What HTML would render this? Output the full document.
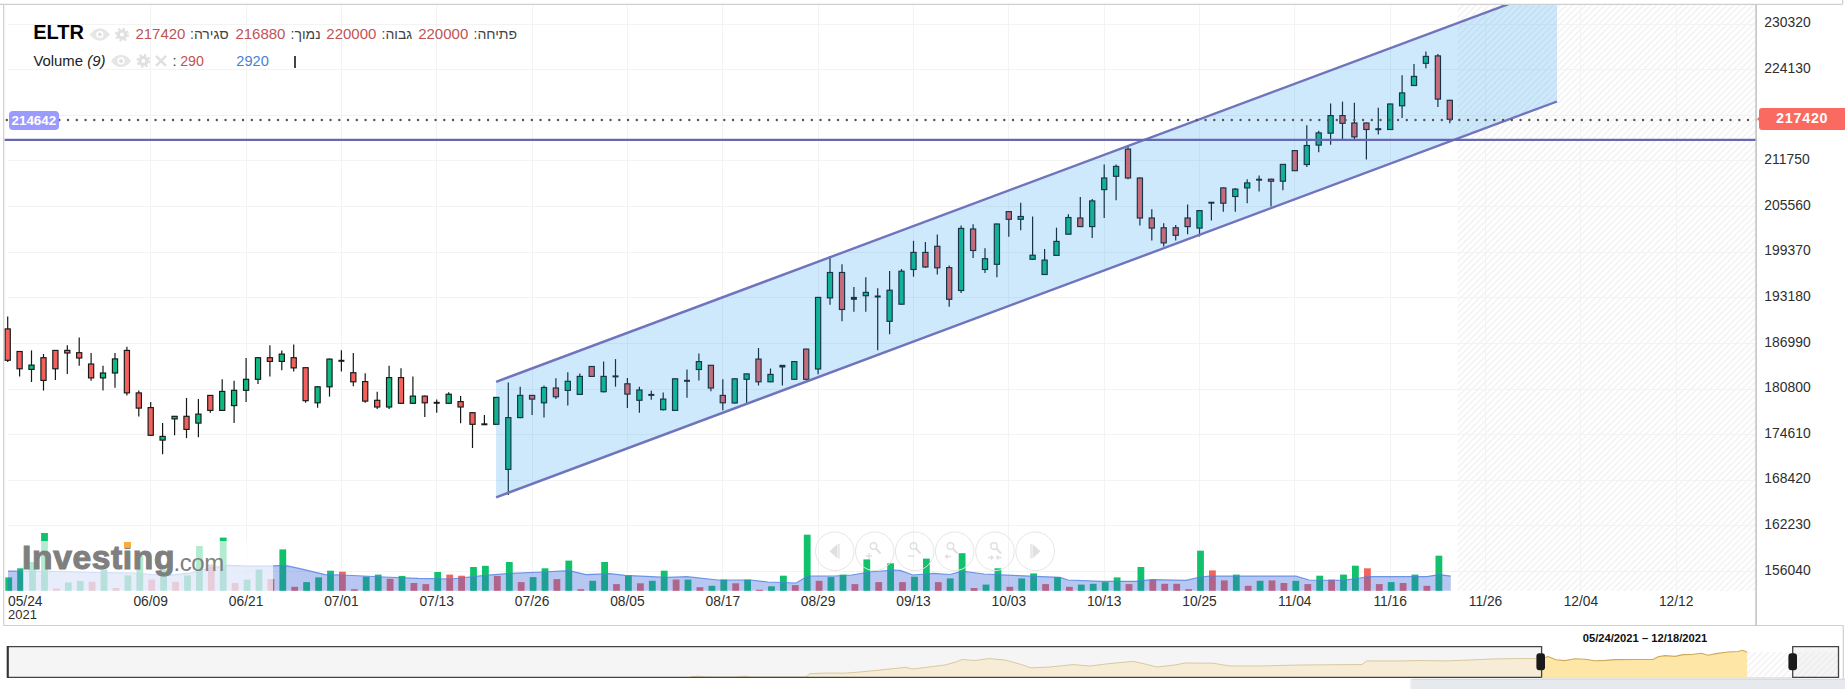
<!DOCTYPE html>
<html><head><meta charset="utf-8"><title>ELTR</title>
<style>
html,body{margin:0;padding:0;background:#fff;}
body{width:1845px;height:689px;overflow:hidden;position:relative;font-family:"Liberation Sans",sans-serif;color:#333;}
svg{position:absolute;left:0;top:0;}
.yl{position:absolute;left:1764.3px;font-size:13.9px;line-height:16px;height:16px;color:#2e2e2e;}
.xl{position:absolute;top:593.5px;width:60px;text-align:center;font-size:13.8px;line-height:15px;color:#2e2e2e;}
.hdr{position:absolute;white-space:nowrap;}
.v{color:#bf5356;}
.t{position:absolute;white-space:nowrap;}
</style></head><body>
<svg width="1845" height="689" viewBox="0 0 1845 689">
<defs>
<pattern id="hatch" width="4.55" height="4.55" patternUnits="userSpaceOnUse" patternTransform="rotate(-45)">
<rect width="4.55" height="4.55" fill="#ffffff"/><rect width="4.55" height="1.9" fill="#f4f4f4"/>
</pattern>
<pattern id="hatch2" width="4.55" height="4.55" patternUnits="userSpaceOnUse" patternTransform="rotate(-45)">
<rect width="4.55" height="4.55" fill="#f5f5f5"/><rect width="4.55" height="1.9" fill="#eeeeee"/>
</pattern>
<clipPath id="cc"><rect x="4" y="5" width="1753" height="587"/></clipPath>
</defs>
<g clip-path="url(#cc)">
<rect x="1457.5" y="5" width="298" height="586" fill="url(#hatch)"/>
<g stroke="#f3f3f3" stroke-width="1" shape-rendering="crispEdges">
<line x1="150.7" y1="5" x2="150.7" y2="591"/>
<line x1="246.1" y1="5" x2="246.1" y2="591"/>
<line x1="341.4" y1="5" x2="341.4" y2="591"/>
<line x1="436.7" y1="5" x2="436.7" y2="591"/>
<line x1="532.1" y1="5" x2="532.1" y2="591"/>
<line x1="627.4" y1="5" x2="627.4" y2="591"/>
<line x1="722.8" y1="5" x2="722.8" y2="591"/>
<line x1="818.1" y1="5" x2="818.1" y2="591"/>
<line x1="913.5" y1="5" x2="913.5" y2="591"/>
<line x1="1008.8" y1="5" x2="1008.8" y2="591"/>
<line x1="1104.2" y1="5" x2="1104.2" y2="591"/>
<line x1="1199.5" y1="5" x2="1199.5" y2="591"/>
<line x1="1294.8" y1="5" x2="1294.8" y2="591"/>
<line x1="1390.2" y1="5" x2="1390.2" y2="591"/>
<line x1="1485.5" y1="5" x2="1485.5" y2="591"/>
<line x1="1580.9" y1="5" x2="1580.9" y2="591"/>
<line x1="1676.2" y1="5" x2="1676.2" y2="591"/>
<line x1="8" y1="24.0" x2="1756" y2="24.0"/>
<line x1="8" y1="69.6" x2="1756" y2="69.6"/>
<line x1="8" y1="115.2" x2="1756" y2="115.2"/>
<line x1="8" y1="160.9" x2="1756" y2="160.9"/>
<line x1="8" y1="206.5" x2="1756" y2="206.5"/>
<line x1="8" y1="252.1" x2="1756" y2="252.1"/>
<line x1="8" y1="297.7" x2="1756" y2="297.7"/>
<line x1="8" y1="343.3" x2="1756" y2="343.3"/>
<line x1="8" y1="389.0" x2="1756" y2="389.0"/>
<line x1="8" y1="434.6" x2="1756" y2="434.6"/>
<line x1="8" y1="480.2" x2="1756" y2="480.2"/>
<line x1="8" y1="525.8" x2="1756" y2="525.8"/>
<line x1="8" y1="571.4" x2="1756" y2="571.4"/>
</g>
<g>
<rect x="5.3" y="577.4" width="6.8" height="13.4" fill="#10c26c"/>
<rect x="17.2" y="568.3" width="6.8" height="22.5" fill="#10c26c"/>
<rect x="29.1" y="562.0" width="6.8" height="28.8" fill="#10c26c"/>
<rect x="41.1" y="533.0" width="6.8" height="57.8" fill="#10c26c"/>
<rect x="53.0" y="588.5" width="6.8" height="2.3" fill="#f5645c"/>
<rect x="64.9" y="582.5" width="6.8" height="8.3" fill="#10c26c"/>
<rect x="76.8" y="581.0" width="6.8" height="9.8" fill="#10c26c"/>
<rect x="88.7" y="581.8" width="6.8" height="9.0" fill="#f5645c"/>
<rect x="100.6" y="569.5" width="6.8" height="21.3" fill="#10c26c"/>
<rect x="112.6" y="588.0" width="6.8" height="2.8" fill="#f5645c"/>
<rect x="124.5" y="575.4" width="6.8" height="15.4" fill="#10c26c"/>
<rect x="136.4" y="556.0" width="6.8" height="34.8" fill="#10c26c"/>
<rect x="148.3" y="579.6" width="6.8" height="11.2" fill="#f5645c"/>
<rect x="160.2" y="569.5" width="6.8" height="21.3" fill="#10c26c"/>
<rect x="172.2" y="581.8" width="6.8" height="9.0" fill="#f5645c"/>
<rect x="184.1" y="575.4" width="6.8" height="15.4" fill="#10c26c"/>
<rect x="196.0" y="546.0" width="6.8" height="44.8" fill="#10c26c"/>
<rect x="207.9" y="564.5" width="6.8" height="26.3" fill="#f5645c"/>
<rect x="219.8" y="537.6" width="6.8" height="53.2" fill="#10c26c"/>
<rect x="231.7" y="583.0" width="6.8" height="7.8" fill="#f5645c"/>
<rect x="243.7" y="579.6" width="6.8" height="11.2" fill="#10c26c"/>
<rect x="255.6" y="569.5" width="6.8" height="21.3" fill="#10c26c"/>
<rect x="267.5" y="579.0" width="6.8" height="11.8" fill="#f5645c"/>
<rect x="279.4" y="549.4" width="6.8" height="41.4" fill="#10c26c"/>
<rect x="291.3" y="586.8" width="6.8" height="4.0" fill="#f5645c"/>
<rect x="303.2" y="582.1" width="6.8" height="8.7" fill="#10c26c"/>
<rect x="315.2" y="577.4" width="6.8" height="13.4" fill="#10c26c"/>
<rect x="327.1" y="570.7" width="6.8" height="20.1" fill="#10c26c"/>
<rect x="339.0" y="571.7" width="6.8" height="19.1" fill="#f5645c"/>
<rect x="350.9" y="589.2" width="6.8" height="1.6" fill="#f5645c"/>
<rect x="362.8" y="576.7" width="6.8" height="14.1" fill="#10c26c"/>
<rect x="374.8" y="574.6" width="6.8" height="16.2" fill="#10c26c"/>
<rect x="386.7" y="578.8" width="6.8" height="12.0" fill="#f5645c"/>
<rect x="398.6" y="575.9" width="6.8" height="14.9" fill="#10c26c"/>
<rect x="410.5" y="583.0" width="6.8" height="7.8" fill="#f5645c"/>
<rect x="422.4" y="584.1" width="6.8" height="6.7" fill="#f5645c"/>
<rect x="434.3" y="572.0" width="6.8" height="18.8" fill="#10c26c"/>
<rect x="446.3" y="574.6" width="6.8" height="16.2" fill="#f5645c"/>
<rect x="458.2" y="575.7" width="6.8" height="15.1" fill="#f5645c"/>
<rect x="470.1" y="567.0" width="6.8" height="23.8" fill="#10c26c"/>
<rect x="482.0" y="565.8" width="6.8" height="25.0" fill="#10c26c"/>
<rect x="493.9" y="575.9" width="6.8" height="14.9" fill="#f5645c"/>
<rect x="505.9" y="562.0" width="6.8" height="28.8" fill="#10c26c"/>
<rect x="517.8" y="582.1" width="6.8" height="8.7" fill="#f5645c"/>
<rect x="529.7" y="577.1" width="6.8" height="13.7" fill="#10c26c"/>
<rect x="541.6" y="568.3" width="6.8" height="22.5" fill="#10c26c"/>
<rect x="553.5" y="579.1" width="6.8" height="11.7" fill="#f5645c"/>
<rect x="565.4" y="560.6" width="6.8" height="30.2" fill="#10c26c"/>
<rect x="577.4" y="589.2" width="6.8" height="1.6" fill="#f5645c"/>
<rect x="589.3" y="580.8" width="6.8" height="10.0" fill="#10c26c"/>
<rect x="601.2" y="562.0" width="6.8" height="28.8" fill="#10c26c"/>
<rect x="613.1" y="584.1" width="6.8" height="6.7" fill="#f5645c"/>
<rect x="625.0" y="575.4" width="6.8" height="15.4" fill="#10c26c"/>
<rect x="637.0" y="583.3" width="6.8" height="7.5" fill="#f5645c"/>
<rect x="648.9" y="580.8" width="6.8" height="10.0" fill="#10c26c"/>
<rect x="660.8" y="570.7" width="6.8" height="20.1" fill="#10c26c"/>
<rect x="672.7" y="579.6" width="6.8" height="11.2" fill="#f5645c"/>
<rect x="684.6" y="579.6" width="6.8" height="11.2" fill="#10c26c"/>
<rect x="696.5" y="587.2" width="6.8" height="3.6" fill="#f5645c"/>
<rect x="708.5" y="585.8" width="6.8" height="5.0" fill="#10c26c"/>
<rect x="720.4" y="579.6" width="6.8" height="11.2" fill="#10c26c"/>
<rect x="732.3" y="583.3" width="6.8" height="7.5" fill="#f5645c"/>
<rect x="744.2" y="579.6" width="6.8" height="11.2" fill="#10c26c"/>
<rect x="756.1" y="589.7" width="6.8" height="1.1" fill="#f5645c"/>
<rect x="768.1" y="586.3" width="6.8" height="4.5" fill="#10c26c"/>
<rect x="780.0" y="575.7" width="6.8" height="15.1" fill="#10c26c"/>
<rect x="791.9" y="585.1" width="6.8" height="5.7" fill="#f5645c"/>
<rect x="803.8" y="534.7" width="6.8" height="56.1" fill="#10c26c"/>
<rect x="815.7" y="580.8" width="6.8" height="10.0" fill="#f5645c"/>
<rect x="827.6" y="577.1" width="6.8" height="13.7" fill="#10c26c"/>
<rect x="839.6" y="574.6" width="6.8" height="16.2" fill="#10c26c"/>
<rect x="851.5" y="584.1" width="6.8" height="6.7" fill="#f5645c"/>
<rect x="863.4" y="559.4" width="6.8" height="31.4" fill="#10c26c"/>
<rect x="875.3" y="582.1" width="6.8" height="8.7" fill="#f5645c"/>
<rect x="887.2" y="563.3" width="6.8" height="27.5" fill="#10c26c"/>
<rect x="899.1" y="582.1" width="6.8" height="8.7" fill="#f5645c"/>
<rect x="911.1" y="576.7" width="6.8" height="14.1" fill="#10c26c"/>
<rect x="923.0" y="558.6" width="6.8" height="32.2" fill="#10c26c"/>
<rect x="934.9" y="582.1" width="6.8" height="8.7" fill="#f5645c"/>
<rect x="946.8" y="578.4" width="6.8" height="12.4" fill="#10c26c"/>
<rect x="958.7" y="553.2" width="6.8" height="37.6" fill="#10c26c"/>
<rect x="970.7" y="588.0" width="6.8" height="2.8" fill="#f5645c"/>
<rect x="982.6" y="584.6" width="6.8" height="6.2" fill="#10c26c"/>
<rect x="994.5" y="568.3" width="6.8" height="22.5" fill="#10c26c"/>
<rect x="1006.4" y="586.8" width="6.8" height="4.0" fill="#f5645c"/>
<rect x="1018.3" y="578.4" width="6.8" height="12.4" fill="#10c26c"/>
<rect x="1030.2" y="573.4" width="6.8" height="17.4" fill="#10c26c"/>
<rect x="1042.2" y="584.1" width="6.8" height="6.7" fill="#f5645c"/>
<rect x="1054.1" y="577.1" width="6.8" height="13.7" fill="#10c26c"/>
<rect x="1066.0" y="586.8" width="6.8" height="4.0" fill="#f5645c"/>
<rect x="1077.9" y="584.6" width="6.8" height="6.2" fill="#10c26c"/>
<rect x="1089.8" y="583.8" width="6.8" height="7.0" fill="#10c26c"/>
<rect x="1101.8" y="582.1" width="6.8" height="8.7" fill="#10c26c"/>
<rect x="1113.7" y="577.4" width="6.8" height="13.4" fill="#10c26c"/>
<rect x="1125.6" y="584.1" width="6.8" height="6.7" fill="#f5645c"/>
<rect x="1137.5" y="567.0" width="6.8" height="23.8" fill="#10c26c"/>
<rect x="1149.4" y="579.6" width="6.8" height="11.2" fill="#f5645c"/>
<rect x="1161.3" y="583.8" width="6.8" height="7.0" fill="#f5645c"/>
<rect x="1173.3" y="583.8" width="6.8" height="7.0" fill="#f5645c"/>
<rect x="1185.2" y="589.2" width="6.8" height="1.6" fill="#f5645c"/>
<rect x="1197.1" y="550.7" width="6.8" height="40.1" fill="#10c26c"/>
<rect x="1209.0" y="570.4" width="6.8" height="20.4" fill="#f5645c"/>
<rect x="1220.9" y="580.4" width="6.8" height="10.4" fill="#f5645c"/>
<rect x="1232.9" y="574.6" width="6.8" height="16.2" fill="#10c26c"/>
<rect x="1244.8" y="585.8" width="6.8" height="5.0" fill="#f5645c"/>
<rect x="1256.7" y="580.8" width="6.8" height="10.0" fill="#10c26c"/>
<rect x="1268.6" y="580.4" width="6.8" height="10.4" fill="#f5645c"/>
<rect x="1280.5" y="583.0" width="6.8" height="7.8" fill="#f5645c"/>
<rect x="1292.4" y="580.8" width="6.8" height="10.0" fill="#10c26c"/>
<rect x="1304.4" y="584.1" width="6.8" height="6.7" fill="#f5645c"/>
<rect x="1316.3" y="575.7" width="6.8" height="15.1" fill="#10c26c"/>
<rect x="1328.2" y="579.6" width="6.8" height="11.2" fill="#f5645c"/>
<rect x="1340.1" y="574.6" width="6.8" height="16.2" fill="#10c26c"/>
<rect x="1352.0" y="565.7" width="6.8" height="25.1" fill="#10c26c"/>
<rect x="1364.0" y="568.3" width="6.8" height="22.5" fill="#f5645c"/>
<rect x="1375.9" y="584.1" width="6.8" height="6.7" fill="#f5645c"/>
<rect x="1387.8" y="582.1" width="6.8" height="8.7" fill="#10c26c"/>
<rect x="1399.7" y="583.0" width="6.8" height="7.8" fill="#f5645c"/>
<rect x="1411.6" y="574.6" width="6.8" height="16.2" fill="#10c26c"/>
<rect x="1423.5" y="585.8" width="6.8" height="5.0" fill="#f5645c"/>
<rect x="1435.5" y="555.7" width="6.8" height="35.1" fill="#10c26c"/>
</g>
<polygon points="8,590.8 8.0,571.2 60.0,571.5 100.0,572.5 134.0,573.0 152.0,574.5 168.0,575.4 190.0,573.0 210.0,568.0 227.0,565.3 250.0,566.0 268.0,566.2 285.0,565.3 300.0,568.7 325.0,574.6 342.0,575.0 384.0,577.0 418.0,578.4 451.0,579.0 485.0,575.4 510.0,573.4 543.0,572.0 569.0,570.7 586.0,574.6 610.0,573.7 625.0,575.4 667.0,577.4 687.0,576.7 718.0,580.0 751.0,580.0 768.0,582.0 796.0,583.0 808.0,576.0 835.0,576.0 852.0,575.0 869.0,572.0 894.0,570.0 900.0,570.4 913.0,575.0 934.0,573.4 950.0,574.5 962.0,571.2 984.0,574.0 1018.0,575.7 1060.0,577.4 1068.0,580.0 1102.0,581.3 1135.0,581.3 1152.0,579.6 1186.0,580.4 1200.0,577.0 1210.0,576.2 1296.0,576.2 1309.0,580.0 1343.0,580.4 1360.0,578.0 1368.0,576.7 1427.0,576.7 1439.0,574.6 1450.8,576.2 1450.8,590.8" fill="rgba(58,100,220,0.36)"/>
<polyline points="8.0,571.2 60.0,571.5 100.0,572.5 134.0,573.0 152.0,574.5 168.0,575.4 190.0,573.0 210.0,568.0 227.0,565.3 250.0,566.0 268.0,566.2 285.0,565.3 300.0,568.7 325.0,574.6 342.0,575.0 384.0,577.0 418.0,578.4 451.0,579.0 485.0,575.4 510.0,573.4 543.0,572.0 569.0,570.7 586.0,574.6 610.0,573.7 625.0,575.4 667.0,577.4 687.0,576.7 718.0,580.0 751.0,580.0 768.0,582.0 796.0,583.0 808.0,576.0 835.0,576.0 852.0,575.0 869.0,572.0 894.0,570.0 900.0,570.4 913.0,575.0 934.0,573.4 950.0,574.5 962.0,571.2 984.0,574.0 1018.0,575.7 1060.0,577.4 1068.0,580.0 1102.0,581.3 1135.0,581.3 1152.0,579.6 1186.0,580.4 1200.0,577.0 1210.0,576.2 1296.0,576.2 1309.0,580.0 1343.0,580.4 1360.0,578.0 1368.0,576.7 1427.0,576.7 1439.0,574.6 1450.8,576.2" fill="none" stroke="#4f7fe0" stroke-width="1.2" stroke-opacity="0.8"/>
<g>
<line x1="7.7" y1="316.4" x2="7.7" y2="362.0" stroke="#141a1a" stroke-width="1.2"/>
<rect x="5.1" y="328.9" width="5.2" height="31.4" fill="#f4605c" stroke="#141a1a" stroke-width="1.15"/>
<line x1="19.6" y1="351.0" x2="19.6" y2="376.4" stroke="#141a1a" stroke-width="1.2"/>
<rect x="17.0" y="351.5" width="5.2" height="17.3" fill="#f4605c" stroke="#141a1a" stroke-width="1.15"/>
<line x1="31.5" y1="350.4" x2="31.5" y2="382.0" stroke="#141a1a" stroke-width="1.2"/>
<rect x="28.9" y="365.1" width="5.2" height="4.3" fill="#0fb981" stroke="#141a1a" stroke-width="1.15"/>
<line x1="43.5" y1="354.0" x2="43.5" y2="390.6" stroke="#141a1a" stroke-width="1.2"/>
<rect x="40.9" y="357.7" width="5.2" height="22.7" fill="#f4605c" stroke="#141a1a" stroke-width="1.15"/>
<line x1="55.4" y1="350.0" x2="55.4" y2="380.0" stroke="#141a1a" stroke-width="1.2"/>
<rect x="52.8" y="350.4" width="5.2" height="18.4" fill="#f4605c" stroke="#141a1a" stroke-width="1.15"/>
<line x1="67.3" y1="345.3" x2="67.3" y2="374.0" stroke="#141a1a" stroke-width="1.2"/>
<rect x="64.7" y="350.4" width="5.2" height="2.6" fill="#f4605c" stroke="#141a1a" stroke-width="1.15"/>
<line x1="79.2" y1="337.6" x2="79.2" y2="365.7" stroke="#141a1a" stroke-width="1.2"/>
<rect x="76.6" y="352.7" width="5.2" height="5.3" fill="#f4605c" stroke="#141a1a" stroke-width="1.15"/>
<line x1="91.1" y1="353.0" x2="91.1" y2="380.7" stroke="#141a1a" stroke-width="1.2"/>
<rect x="88.5" y="364.0" width="5.2" height="13.9" fill="#f4605c" stroke="#141a1a" stroke-width="1.15"/>
<line x1="103.0" y1="365.7" x2="103.0" y2="390.6" stroke="#141a1a" stroke-width="1.2"/>
<rect x="100.4" y="373.0" width="5.2" height="4.9" fill="#0fb981" stroke="#141a1a" stroke-width="1.15"/>
<line x1="115.0" y1="353.0" x2="115.0" y2="387.8" stroke="#141a1a" stroke-width="1.2"/>
<rect x="112.4" y="358.9" width="5.2" height="14.1" fill="#0fb981" stroke="#141a1a" stroke-width="1.15"/>
<line x1="126.9" y1="346.7" x2="126.9" y2="395.4" stroke="#141a1a" stroke-width="1.2"/>
<rect x="124.3" y="350.4" width="5.2" height="42.5" fill="#f4605c" stroke="#141a1a" stroke-width="1.15"/>
<line x1="138.8" y1="390.5" x2="138.8" y2="416.6" stroke="#141a1a" stroke-width="1.2"/>
<rect x="136.2" y="392.9" width="5.2" height="15.2" fill="#f4605c" stroke="#141a1a" stroke-width="1.15"/>
<line x1="150.7" y1="401.9" x2="150.7" y2="436.0" stroke="#141a1a" stroke-width="1.2"/>
<rect x="148.1" y="407.6" width="5.2" height="27.7" fill="#f4605c" stroke="#141a1a" stroke-width="1.15"/>
<line x1="162.6" y1="423.1" x2="162.6" y2="454.3" stroke="#141a1a" stroke-width="1.2"/>
<rect x="160.0" y="436.4" width="5.2" height="3.7" fill="#0fb981" stroke="#141a1a" stroke-width="1.15"/>
<line x1="174.6" y1="416.0" x2="174.6" y2="435.3" stroke="#141a1a" stroke-width="1.2"/>
<rect x="172.0" y="416.3" width="5.2" height="2.6" fill="#0fb981" stroke="#141a1a" stroke-width="1.15"/>
<line x1="186.5" y1="398.0" x2="186.5" y2="438.1" stroke="#141a1a" stroke-width="1.2"/>
<rect x="183.9" y="416.3" width="5.2" height="13.1" fill="#f4605c" stroke="#141a1a" stroke-width="1.15"/>
<line x1="198.4" y1="399.0" x2="198.4" y2="437.3" stroke="#141a1a" stroke-width="1.2"/>
<rect x="195.8" y="414.1" width="5.2" height="9.0" fill="#0fb981" stroke="#141a1a" stroke-width="1.15"/>
<line x1="210.3" y1="395.0" x2="210.3" y2="412.7" stroke="#141a1a" stroke-width="1.2"/>
<rect x="207.7" y="395.4" width="5.2" height="15.0" fill="#f4605c" stroke="#141a1a" stroke-width="1.15"/>
<line x1="222.2" y1="379.3" x2="222.2" y2="411.0" stroke="#141a1a" stroke-width="1.2"/>
<rect x="219.6" y="391.4" width="5.2" height="19.0" fill="#0fb981" stroke="#141a1a" stroke-width="1.15"/>
<line x1="234.1" y1="380.7" x2="234.1" y2="423.1" stroke="#141a1a" stroke-width="1.2"/>
<rect x="231.5" y="390.3" width="5.2" height="15.3" fill="#0fb981" stroke="#141a1a" stroke-width="1.15"/>
<line x1="246.1" y1="358.0" x2="246.1" y2="401.9" stroke="#141a1a" stroke-width="1.2"/>
<rect x="243.5" y="379.3" width="5.2" height="11.0" fill="#0fb981" stroke="#141a1a" stroke-width="1.15"/>
<line x1="258.0" y1="357.0" x2="258.0" y2="384.1" stroke="#141a1a" stroke-width="1.2"/>
<rect x="255.4" y="357.7" width="5.2" height="21.6" fill="#0fb981" stroke="#141a1a" stroke-width="1.15"/>
<line x1="269.9" y1="345.3" x2="269.9" y2="376.4" stroke="#141a1a" stroke-width="1.2"/>
<rect x="267.3" y="357.7" width="5.2" height="3.7" fill="#f4605c" stroke="#141a1a" stroke-width="1.15"/>
<line x1="281.8" y1="350.4" x2="281.8" y2="370.2" stroke="#141a1a" stroke-width="1.2"/>
<rect x="279.2" y="354.1" width="5.2" height="7.3" fill="#0fb981" stroke="#141a1a" stroke-width="1.15"/>
<line x1="293.7" y1="344.4" x2="293.7" y2="371.6" stroke="#141a1a" stroke-width="1.2"/>
<rect x="291.1" y="357.7" width="5.2" height="10.2" fill="#f4605c" stroke="#141a1a" stroke-width="1.15"/>
<line x1="305.6" y1="367.5" x2="305.6" y2="402.8" stroke="#141a1a" stroke-width="1.2"/>
<rect x="303.0" y="367.7" width="5.2" height="33.0" fill="#f4605c" stroke="#141a1a" stroke-width="1.15"/>
<line x1="317.6" y1="386.0" x2="317.6" y2="407.7" stroke="#141a1a" stroke-width="1.2"/>
<rect x="315.0" y="386.8" width="5.2" height="16.0" fill="#0fb981" stroke="#141a1a" stroke-width="1.15"/>
<line x1="329.5" y1="358.5" x2="329.5" y2="396.6" stroke="#141a1a" stroke-width="1.2"/>
<rect x="326.9" y="359.1" width="5.2" height="27.7" fill="#0fb981" stroke="#141a1a" stroke-width="1.15"/>
<line x1="341.4" y1="350.2" x2="341.4" y2="371.5" stroke="#141a1a" stroke-width="1.2"/>
<rect x="338.4" y="359.8" width="6" height="2.0" fill="#141a1a"/>
<line x1="353.3" y1="353.0" x2="353.3" y2="386.3" stroke="#141a1a" stroke-width="1.2"/>
<rect x="350.7" y="372.7" width="5.2" height="9.1" fill="#f4605c" stroke="#141a1a" stroke-width="1.15"/>
<line x1="365.2" y1="373.2" x2="365.2" y2="402.8" stroke="#141a1a" stroke-width="1.2"/>
<rect x="362.6" y="381.6" width="5.2" height="19.5" fill="#f4605c" stroke="#141a1a" stroke-width="1.15"/>
<line x1="377.2" y1="391.7" x2="377.2" y2="409.0" stroke="#141a1a" stroke-width="1.2"/>
<rect x="374.6" y="400.3" width="5.2" height="6.7" fill="#f4605c" stroke="#141a1a" stroke-width="1.15"/>
<line x1="389.1" y1="365.8" x2="389.1" y2="409.0" stroke="#141a1a" stroke-width="1.2"/>
<rect x="386.5" y="377.6" width="5.2" height="29.4" fill="#0fb981" stroke="#141a1a" stroke-width="1.15"/>
<line x1="401.0" y1="368.3" x2="401.0" y2="404.0" stroke="#141a1a" stroke-width="1.2"/>
<rect x="398.4" y="377.6" width="5.2" height="25.7" fill="#f4605c" stroke="#141a1a" stroke-width="1.15"/>
<line x1="412.9" y1="376.4" x2="412.9" y2="404.0" stroke="#141a1a" stroke-width="1.2"/>
<rect x="410.3" y="396.1" width="5.2" height="7.2" fill="#0fb981" stroke="#141a1a" stroke-width="1.15"/>
<line x1="424.8" y1="395.5" x2="424.8" y2="416.9" stroke="#141a1a" stroke-width="1.2"/>
<rect x="422.2" y="396.1" width="5.2" height="6.7" fill="#f4605c" stroke="#141a1a" stroke-width="1.15"/>
<line x1="436.7" y1="399.6" x2="436.7" y2="412.7" stroke="#141a1a" stroke-width="1.2"/>
<rect x="433.7" y="401.8" width="6" height="2.0" fill="#141a1a"/>
<line x1="448.7" y1="392.2" x2="448.7" y2="404.0" stroke="#141a1a" stroke-width="1.2"/>
<rect x="446.1" y="394.2" width="5.2" height="9.1" fill="#0fb981" stroke="#141a1a" stroke-width="1.15"/>
<line x1="460.6" y1="396.1" x2="460.6" y2="423.3" stroke="#141a1a" stroke-width="1.2"/>
<rect x="458.0" y="401.6" width="5.2" height="5.4" fill="#f4605c" stroke="#141a1a" stroke-width="1.15"/>
<line x1="472.5" y1="412.0" x2="472.5" y2="448.0" stroke="#141a1a" stroke-width="1.2"/>
<rect x="469.9" y="412.7" width="5.2" height="11.6" fill="#f4605c" stroke="#141a1a" stroke-width="1.15"/>
<line x1="484.4" y1="415.1" x2="484.4" y2="424.8" stroke="#141a1a" stroke-width="1.2"/>
<rect x="481.4" y="423.3" width="6" height="2.0" fill="#141a1a"/>
<line x1="496.3" y1="397.0" x2="496.3" y2="424.8" stroke="#141a1a" stroke-width="1.2"/>
<rect x="493.7" y="397.4" width="5.2" height="26.9" fill="#0fb981" stroke="#141a1a" stroke-width="1.15"/>
<line x1="508.3" y1="382.6" x2="508.3" y2="494.9" stroke="#141a1a" stroke-width="1.2"/>
<rect x="505.7" y="417.6" width="5.2" height="51.8" fill="#0fb981" stroke="#141a1a" stroke-width="1.15"/>
<line x1="520.2" y1="386.8" x2="520.2" y2="418.3" stroke="#141a1a" stroke-width="1.2"/>
<rect x="517.6" y="395.4" width="5.2" height="22.2" fill="#0fb981" stroke="#141a1a" stroke-width="1.15"/>
<line x1="532.1" y1="395.0" x2="532.1" y2="415.1" stroke="#141a1a" stroke-width="1.2"/>
<rect x="529.5" y="395.4" width="5.2" height="3.7" fill="#f4605c" stroke="#141a1a" stroke-width="1.15"/>
<line x1="544.0" y1="385.5" x2="544.0" y2="417.6" stroke="#141a1a" stroke-width="1.2"/>
<rect x="541.4" y="387.5" width="5.2" height="15.3" fill="#0fb981" stroke="#141a1a" stroke-width="1.15"/>
<line x1="555.9" y1="378.2" x2="555.9" y2="399.1" stroke="#141a1a" stroke-width="1.2"/>
<rect x="553.3" y="388.0" width="5.2" height="8.8" fill="#f4605c" stroke="#141a1a" stroke-width="1.15"/>
<line x1="567.8" y1="372.2" x2="567.8" y2="405.5" stroke="#141a1a" stroke-width="1.2"/>
<rect x="565.2" y="381.3" width="5.2" height="9.1" fill="#0fb981" stroke="#141a1a" stroke-width="1.15"/>
<line x1="579.8" y1="373.4" x2="579.8" y2="395.0" stroke="#141a1a" stroke-width="1.2"/>
<rect x="577.2" y="376.4" width="5.2" height="18.0" fill="#0fb981" stroke="#141a1a" stroke-width="1.15"/>
<line x1="591.7" y1="366.0" x2="591.7" y2="377.0" stroke="#141a1a" stroke-width="1.2"/>
<rect x="589.1" y="366.5" width="5.2" height="9.9" fill="#f4605c" stroke="#141a1a" stroke-width="1.15"/>
<line x1="603.6" y1="361.6" x2="603.6" y2="392.4" stroke="#141a1a" stroke-width="1.2"/>
<rect x="601.0" y="376.4" width="5.2" height="15.3" fill="#0fb981" stroke="#141a1a" stroke-width="1.15"/>
<line x1="615.5" y1="359.1" x2="615.5" y2="386.7" stroke="#141a1a" stroke-width="1.2"/>
<rect x="612.5" y="375.4" width="6" height="2.0" fill="#141a1a"/>
<line x1="627.4" y1="378.1" x2="627.4" y2="408.0" stroke="#141a1a" stroke-width="1.2"/>
<rect x="624.8" y="383.8" width="5.2" height="10.3" fill="#f4605c" stroke="#141a1a" stroke-width="1.15"/>
<line x1="639.4" y1="386.7" x2="639.4" y2="412.7" stroke="#141a1a" stroke-width="1.2"/>
<rect x="636.8" y="390.0" width="5.2" height="10.3" fill="#0fb981" stroke="#141a1a" stroke-width="1.15"/>
<line x1="651.3" y1="390.7" x2="651.3" y2="399.8" stroke="#141a1a" stroke-width="1.2"/>
<rect x="648.3" y="393.9" width="6" height="2.0" fill="#141a1a"/>
<line x1="663.2" y1="392.4" x2="663.2" y2="410.4" stroke="#141a1a" stroke-width="1.2"/>
<rect x="660.6" y="399.1" width="5.2" height="10.6" fill="#0fb981" stroke="#141a1a" stroke-width="1.15"/>
<line x1="675.1" y1="378.5" x2="675.1" y2="410.8" stroke="#141a1a" stroke-width="1.2"/>
<rect x="672.5" y="378.8" width="5.2" height="31.6" fill="#0fb981" stroke="#141a1a" stroke-width="1.15"/>
<line x1="687.0" y1="369.5" x2="687.0" y2="397.8" stroke="#141a1a" stroke-width="1.2"/>
<rect x="684.0" y="379.8" width="6" height="2.0" fill="#141a1a"/>
<line x1="698.9" y1="353.4" x2="698.9" y2="380.6" stroke="#141a1a" stroke-width="1.2"/>
<rect x="696.3" y="361.6" width="5.2" height="7.9" fill="#0fb981" stroke="#141a1a" stroke-width="1.15"/>
<line x1="710.9" y1="365.0" x2="710.9" y2="391.2" stroke="#141a1a" stroke-width="1.2"/>
<rect x="708.3" y="365.3" width="5.2" height="22.7" fill="#f4605c" stroke="#141a1a" stroke-width="1.15"/>
<line x1="722.8" y1="379.3" x2="722.8" y2="410.2" stroke="#141a1a" stroke-width="1.2"/>
<rect x="720.2" y="395.4" width="5.2" height="7.4" fill="#f4605c" stroke="#141a1a" stroke-width="1.15"/>
<line x1="734.7" y1="378.5" x2="734.7" y2="403.4" stroke="#141a1a" stroke-width="1.2"/>
<rect x="732.1" y="378.8" width="5.2" height="24.2" fill="#0fb981" stroke="#141a1a" stroke-width="1.15"/>
<line x1="746.6" y1="373.5" x2="746.6" y2="403.0" stroke="#141a1a" stroke-width="1.2"/>
<rect x="744.0" y="373.9" width="5.2" height="5.4" fill="#0fb981" stroke="#141a1a" stroke-width="1.15"/>
<line x1="758.5" y1="348.0" x2="758.5" y2="385.5" stroke="#141a1a" stroke-width="1.2"/>
<rect x="755.9" y="359.1" width="5.2" height="22.7" fill="#f4605c" stroke="#141a1a" stroke-width="1.15"/>
<line x1="770.5" y1="368.5" x2="770.5" y2="382.2" stroke="#141a1a" stroke-width="1.2"/>
<rect x="767.9" y="374.4" width="5.2" height="7.4" fill="#0fb981" stroke="#141a1a" stroke-width="1.15"/>
<line x1="782.4" y1="365.0" x2="782.4" y2="385.5" stroke="#141a1a" stroke-width="1.2"/>
<rect x="779.4" y="364.8" width="6" height="2.7" fill="#141a1a"/>
<line x1="794.3" y1="361.2" x2="794.3" y2="379.7" stroke="#141a1a" stroke-width="1.2"/>
<rect x="791.7" y="361.6" width="5.2" height="17.7" fill="#0fb981" stroke="#141a1a" stroke-width="1.15"/>
<line x1="806.2" y1="348.8" x2="806.2" y2="379.8" stroke="#141a1a" stroke-width="1.2"/>
<rect x="803.6" y="349.1" width="5.2" height="30.2" fill="#f4605c" stroke="#141a1a" stroke-width="1.15"/>
<line x1="818.1" y1="297.0" x2="818.1" y2="374.3" stroke="#141a1a" stroke-width="1.2"/>
<rect x="815.5" y="297.4" width="5.2" height="71.6" fill="#0fb981" stroke="#141a1a" stroke-width="1.15"/>
<line x1="830.0" y1="256.0" x2="830.0" y2="304.8" stroke="#141a1a" stroke-width="1.2"/>
<rect x="827.4" y="272.5" width="5.2" height="25.4" fill="#0fb981" stroke="#141a1a" stroke-width="1.15"/>
<line x1="842.0" y1="264.3" x2="842.0" y2="321.3" stroke="#141a1a" stroke-width="1.2"/>
<rect x="839.4" y="272.5" width="5.2" height="37.0" fill="#f4605c" stroke="#141a1a" stroke-width="1.15"/>
<line x1="853.9" y1="286.9" x2="853.9" y2="311.7" stroke="#141a1a" stroke-width="1.2"/>
<rect x="850.9" y="296.9" width="6" height="2.9" fill="#141a1a"/>
<line x1="865.8" y1="277.2" x2="865.8" y2="311.7" stroke="#141a1a" stroke-width="1.2"/>
<rect x="863.2" y="292.4" width="5.2" height="3.3" fill="#0fb981" stroke="#141a1a" stroke-width="1.15"/>
<line x1="877.7" y1="288.3" x2="877.7" y2="350.3" stroke="#141a1a" stroke-width="1.2"/>
<rect x="874.7" y="295.5" width="6" height="2.0" fill="#141a1a"/>
<line x1="889.6" y1="270.9" x2="889.6" y2="334.3" stroke="#141a1a" stroke-width="1.2"/>
<rect x="887.0" y="290.2" width="5.2" height="31.1" fill="#0fb981" stroke="#141a1a" stroke-width="1.15"/>
<line x1="901.5" y1="269.0" x2="901.5" y2="304.6" stroke="#141a1a" stroke-width="1.2"/>
<rect x="898.9" y="271.2" width="5.2" height="33.0" fill="#0fb981" stroke="#141a1a" stroke-width="1.15"/>
<line x1="913.5" y1="240.8" x2="913.5" y2="276.7" stroke="#141a1a" stroke-width="1.2"/>
<rect x="910.9" y="252.4" width="5.2" height="17.1" fill="#0fb981" stroke="#141a1a" stroke-width="1.15"/>
<line x1="925.4" y1="241.9" x2="925.4" y2="268.0" stroke="#141a1a" stroke-width="1.2"/>
<rect x="922.8" y="252.4" width="5.2" height="14.6" fill="#f4605c" stroke="#141a1a" stroke-width="1.15"/>
<line x1="937.3" y1="234.5" x2="937.3" y2="274.5" stroke="#141a1a" stroke-width="1.2"/>
<rect x="934.7" y="246.3" width="5.2" height="21.5" fill="#f4605c" stroke="#141a1a" stroke-width="1.15"/>
<line x1="949.2" y1="265.6" x2="949.2" y2="306.7" stroke="#141a1a" stroke-width="1.2"/>
<rect x="946.6" y="267.6" width="5.2" height="31.7" fill="#f4605c" stroke="#141a1a" stroke-width="1.15"/>
<line x1="961.1" y1="225.6" x2="961.1" y2="292.9" stroke="#141a1a" stroke-width="1.2"/>
<rect x="958.5" y="228.4" width="5.2" height="62.1" fill="#0fb981" stroke="#141a1a" stroke-width="1.15"/>
<line x1="973.1" y1="224.3" x2="973.1" y2="257.9" stroke="#141a1a" stroke-width="1.2"/>
<rect x="970.5" y="229.0" width="5.2" height="21.5" fill="#f4605c" stroke="#141a1a" stroke-width="1.15"/>
<line x1="985.0" y1="248.3" x2="985.0" y2="273.1" stroke="#141a1a" stroke-width="1.2"/>
<rect x="982.4" y="258.7" width="5.2" height="10.8" fill="#0fb981" stroke="#141a1a" stroke-width="1.15"/>
<line x1="996.9" y1="223.5" x2="996.9" y2="277.2" stroke="#141a1a" stroke-width="1.2"/>
<rect x="994.3" y="224.0" width="5.2" height="40.3" fill="#0fb981" stroke="#141a1a" stroke-width="1.15"/>
<line x1="1008.8" y1="211.0" x2="1008.8" y2="236.7" stroke="#141a1a" stroke-width="1.2"/>
<rect x="1006.2" y="211.6" width="5.2" height="7.7" fill="#f4605c" stroke="#141a1a" stroke-width="1.15"/>
<line x1="1020.7" y1="202.8" x2="1020.7" y2="230.3" stroke="#141a1a" stroke-width="1.2"/>
<rect x="1018.1" y="216.5" width="5.2" height="2.8" fill="#0fb981" stroke="#141a1a" stroke-width="1.15"/>
<line x1="1032.6" y1="216.5" x2="1032.6" y2="259.6" stroke="#141a1a" stroke-width="1.2"/>
<rect x="1030.0" y="255.2" width="5.2" height="4.1" fill="#0fb981" stroke="#141a1a" stroke-width="1.15"/>
<line x1="1044.6" y1="249.1" x2="1044.6" y2="275.0" stroke="#141a1a" stroke-width="1.2"/>
<rect x="1042.0" y="260.1" width="5.2" height="14.4" fill="#0fb981" stroke="#141a1a" stroke-width="1.15"/>
<line x1="1056.5" y1="227.7" x2="1056.5" y2="256.0" stroke="#141a1a" stroke-width="1.2"/>
<rect x="1053.9" y="241.4" width="5.2" height="14.0" fill="#0fb981" stroke="#141a1a" stroke-width="1.15"/>
<line x1="1068.4" y1="214.3" x2="1068.4" y2="234.6" stroke="#141a1a" stroke-width="1.2"/>
<rect x="1065.8" y="217.5" width="5.2" height="16.7" fill="#0fb981" stroke="#141a1a" stroke-width="1.15"/>
<line x1="1080.3" y1="197.0" x2="1080.3" y2="227.0" stroke="#141a1a" stroke-width="1.2"/>
<rect x="1077.7" y="218.0" width="5.2" height="8.6" fill="#f4605c" stroke="#141a1a" stroke-width="1.15"/>
<line x1="1092.2" y1="199.0" x2="1092.2" y2="238.0" stroke="#141a1a" stroke-width="1.2"/>
<rect x="1089.6" y="200.9" width="5.2" height="25.7" fill="#0fb981" stroke="#141a1a" stroke-width="1.15"/>
<line x1="1104.2" y1="164.4" x2="1104.2" y2="218.0" stroke="#141a1a" stroke-width="1.2"/>
<rect x="1101.6" y="178.0" width="5.2" height="11.6" fill="#0fb981" stroke="#141a1a" stroke-width="1.15"/>
<line x1="1116.1" y1="164.4" x2="1116.1" y2="200.2" stroke="#141a1a" stroke-width="1.2"/>
<rect x="1113.5" y="166.4" width="5.2" height="9.9" fill="#0fb981" stroke="#141a1a" stroke-width="1.15"/>
<line x1="1128.0" y1="146.7" x2="1128.0" y2="179.2" stroke="#141a1a" stroke-width="1.2"/>
<rect x="1125.4" y="149.1" width="5.2" height="28.9" fill="#f4605c" stroke="#141a1a" stroke-width="1.15"/>
<line x1="1139.9" y1="177.5" x2="1139.9" y2="225.4" stroke="#141a1a" stroke-width="1.2"/>
<rect x="1137.3" y="178.0" width="5.2" height="40.0" fill="#f4605c" stroke="#141a1a" stroke-width="1.15"/>
<line x1="1151.8" y1="209.3" x2="1151.8" y2="240.4" stroke="#141a1a" stroke-width="1.2"/>
<rect x="1149.2" y="218.0" width="5.2" height="10.1" fill="#f4605c" stroke="#141a1a" stroke-width="1.15"/>
<line x1="1163.7" y1="223.2" x2="1163.7" y2="246.4" stroke="#141a1a" stroke-width="1.2"/>
<rect x="1161.1" y="227.8" width="5.2" height="15.1" fill="#f4605c" stroke="#141a1a" stroke-width="1.15"/>
<line x1="1175.7" y1="224.9" x2="1175.7" y2="240.4" stroke="#141a1a" stroke-width="1.2"/>
<rect x="1173.1" y="227.8" width="5.2" height="7.5" fill="#f4605c" stroke="#141a1a" stroke-width="1.15"/>
<line x1="1187.6" y1="204.4" x2="1187.6" y2="234.3" stroke="#141a1a" stroke-width="1.2"/>
<rect x="1185.0" y="218.0" width="5.2" height="8.6" fill="#f4605c" stroke="#141a1a" stroke-width="1.15"/>
<line x1="1199.5" y1="210.2" x2="1199.5" y2="236.5" stroke="#141a1a" stroke-width="1.2"/>
<rect x="1196.9" y="210.6" width="5.2" height="17.5" fill="#0fb981" stroke="#141a1a" stroke-width="1.15"/>
<line x1="1211.4" y1="202.2" x2="1211.4" y2="220.4" stroke="#141a1a" stroke-width="1.2"/>
<rect x="1208.4" y="201.7" width="6" height="2.0" fill="#141a1a"/>
<line x1="1223.3" y1="187.5" x2="1223.3" y2="211.8" stroke="#141a1a" stroke-width="1.2"/>
<rect x="1220.7" y="187.9" width="5.2" height="15.3" fill="#f4605c" stroke="#141a1a" stroke-width="1.15"/>
<line x1="1235.3" y1="187.9" x2="1235.3" y2="211.8" stroke="#141a1a" stroke-width="1.2"/>
<rect x="1232.7" y="189.1" width="5.2" height="7.4" fill="#0fb981" stroke="#141a1a" stroke-width="1.15"/>
<line x1="1247.2" y1="179.2" x2="1247.2" y2="203.2" stroke="#141a1a" stroke-width="1.2"/>
<rect x="1244.6" y="182.9" width="5.2" height="5.0" fill="#0fb981" stroke="#141a1a" stroke-width="1.15"/>
<line x1="1259.1" y1="175.5" x2="1259.1" y2="191.6" stroke="#141a1a" stroke-width="1.2"/>
<rect x="1256.1" y="178.7" width="6" height="2.0" fill="#141a1a"/>
<line x1="1271.0" y1="178.8" x2="1271.0" y2="206.4" stroke="#141a1a" stroke-width="1.2"/>
<rect x="1268.4" y="179.2" width="5.2" height="2.0" fill="#f4605c" stroke="#141a1a" stroke-width="1.15"/>
<line x1="1282.9" y1="164.0" x2="1282.9" y2="190.3" stroke="#141a1a" stroke-width="1.2"/>
<rect x="1280.3" y="164.4" width="5.2" height="16.8" fill="#0fb981" stroke="#141a1a" stroke-width="1.15"/>
<line x1="1294.8" y1="150.2" x2="1294.8" y2="171.0" stroke="#141a1a" stroke-width="1.2"/>
<rect x="1292.2" y="150.6" width="5.2" height="20.1" fill="#f4605c" stroke="#141a1a" stroke-width="1.15"/>
<line x1="1306.8" y1="125.2" x2="1306.8" y2="167.0" stroke="#141a1a" stroke-width="1.2"/>
<rect x="1304.2" y="145.5" width="5.2" height="19.0" fill="#0fb981" stroke="#141a1a" stroke-width="1.15"/>
<line x1="1318.7" y1="130.7" x2="1318.7" y2="152.2" stroke="#141a1a" stroke-width="1.2"/>
<rect x="1316.1" y="132.9" width="5.2" height="12.2" fill="#0fb981" stroke="#141a1a" stroke-width="1.15"/>
<line x1="1330.6" y1="103.5" x2="1330.6" y2="144.8" stroke="#141a1a" stroke-width="1.2"/>
<rect x="1328.0" y="115.6" width="5.2" height="17.6" fill="#0fb981" stroke="#141a1a" stroke-width="1.15"/>
<line x1="1342.5" y1="101.6" x2="1342.5" y2="139.8" stroke="#141a1a" stroke-width="1.2"/>
<rect x="1339.9" y="115.6" width="5.2" height="7.7" fill="#f4605c" stroke="#141a1a" stroke-width="1.15"/>
<line x1="1354.4" y1="102.8" x2="1354.4" y2="139.8" stroke="#141a1a" stroke-width="1.2"/>
<rect x="1351.8" y="123.0" width="5.2" height="13.9" fill="#f4605c" stroke="#141a1a" stroke-width="1.15"/>
<line x1="1366.4" y1="122.6" x2="1366.4" y2="159.6" stroke="#141a1a" stroke-width="1.2"/>
<rect x="1363.8" y="123.0" width="5.2" height="6.5" fill="#f4605c" stroke="#141a1a" stroke-width="1.15"/>
<line x1="1378.3" y1="107.7" x2="1378.3" y2="134.4" stroke="#141a1a" stroke-width="1.2"/>
<rect x="1375.3" y="128.2" width="6" height="2.0" fill="#141a1a"/>
<line x1="1390.2" y1="103.6" x2="1390.2" y2="129.9" stroke="#141a1a" stroke-width="1.2"/>
<rect x="1387.6" y="104.0" width="5.2" height="25.5" fill="#0fb981" stroke="#141a1a" stroke-width="1.15"/>
<line x1="1402.1" y1="75.2" x2="1402.1" y2="118.1" stroke="#141a1a" stroke-width="1.2"/>
<rect x="1399.5" y="92.9" width="5.2" height="12.9" fill="#0fb981" stroke="#141a1a" stroke-width="1.15"/>
<line x1="1414.0" y1="64.1" x2="1414.0" y2="86.0" stroke="#141a1a" stroke-width="1.2"/>
<rect x="1411.4" y="76.4" width="5.2" height="9.1" fill="#0fb981" stroke="#141a1a" stroke-width="1.15"/>
<line x1="1425.9" y1="51.5" x2="1425.9" y2="68.3" stroke="#141a1a" stroke-width="1.2"/>
<rect x="1423.3" y="56.4" width="5.2" height="6.9" fill="#0fb981" stroke="#141a1a" stroke-width="1.15"/>
<line x1="1437.9" y1="53.9" x2="1437.9" y2="107.0" stroke="#141a1a" stroke-width="1.2"/>
<rect x="1435.3" y="55.9" width="5.2" height="43.2" fill="#f4605c" stroke="#141a1a" stroke-width="1.15"/>
<line x1="1449.8" y1="99.8" x2="1449.8" y2="123.3" stroke="#141a1a" stroke-width="1.2"/>
<rect x="1447.2" y="100.3" width="5.2" height="19.0" fill="#f4605c" stroke="#141a1a" stroke-width="1.15"/>
</g>
<polygon points="496.1,381.8 1557,-14 1557,101.5 496.1,497.3" fill="rgba(33,150,243,0.22)"/>
<g stroke="#7074bc" stroke-width="2.4" stroke-linecap="butt">
<line x1="496.1" y1="381.8" x2="1557" y2="-14"/>
<line x1="496.1" y1="497.3" x2="1557" y2="101.5"/>
</g>
<line x1="4.5" y1="139.8" x2="1757" y2="139.8" stroke="#6668ae" stroke-width="2.2"/>
<line x1="6.8" y1="120" x2="1758" y2="120" stroke="#555" stroke-width="2.4" stroke-dasharray="0.01 8.74" stroke-linecap="round"/>
</g>
<!-- frame -->
<g stroke="#cfcfcf" stroke-width="1.2" fill="none">
<line x1="0" y1="4.3" x2="1842.6" y2="4.3"/>
<line x1="3.7" y1="4.3" x2="3.7" y2="625.5"/>
<line x1="3.5" y1="625.5" x2="1843.3" y2="625.5"/>
<line x1="1756.1" y1="4.3" x2="1756.1" y2="625.5" stroke="#c4c4c4" stroke-width="1.6"/>
<line x1="1842.7" y1="0" x2="1842.7" y2="4.3"/>
<line x1="1843.3" y1="625.5" x2="1843.3" y2="679"/>
</g>
<rect x="7.5" y="646.7" width="1534" height="30.6" fill="#f5f5f5"/>
<polygon points="690,677 690.0,677.0 698.0,676.2 706.0,677.0 736.0,677.0 744.0,676.2 750.0,677.0 806.0,677.0 810.0,673.6 830.0,673.0 844.0,673.2 860.0,672.0 870.0,671.0 890.0,669.0 906.0,667.3 912.0,669.0 925.0,667.5 945.0,665.0 956.4,661.8 962.0,659.5 975.0,660.5 989.0,658.6 1005.0,660.0 1021.7,664.6 1031.0,667.9 1050.0,667.0 1073.0,664.6 1090.0,666.0 1110.0,663.5 1133.6,661.4 1145.0,664.0 1157.0,667.0 1175.0,665.0 1185.0,663.0 1212.8,663.2 1230.0,666.0 1259.4,666.0 1300.0,665.0 1352.7,664.6 1362.0,664.5 1366.7,660.9 1400.0,661.0 1420.0,660.5 1446.0,660.9 1470.0,660.0 1492.5,659.0 1520.0,658.5 1541.6,658.7 1541.6,677" fill="#f7ecd6"/>
<polyline points="690.0,677.0 698.0,676.2 706.0,677.0 736.0,677.0 744.0,676.2 750.0,677.0 806.0,677.0 810.0,673.6 830.0,673.0 844.0,673.2 860.0,672.0 870.0,671.0 890.0,669.0 906.0,667.3 912.0,669.0 925.0,667.5 945.0,665.0 956.4,661.8 962.0,659.5 975.0,660.5 989.0,658.6 1005.0,660.0 1021.7,664.6 1031.0,667.9 1050.0,667.0 1073.0,664.6 1090.0,666.0 1110.0,663.5 1133.6,661.4 1145.0,664.0 1157.0,667.0 1175.0,665.0 1185.0,663.0 1212.8,663.2 1230.0,666.0 1259.4,666.0 1300.0,665.0 1352.7,664.6 1362.0,664.5 1366.7,660.9 1400.0,661.0 1420.0,660.5 1446.0,660.9 1470.0,660.0 1492.5,659.0 1520.0,658.5 1541.6,658.7" fill="none" stroke="#d9c9a0" stroke-width="1"/>
<polygon points="1541.6,677.3 1541.6,658.7 1548.0,656.5 1556.0,659.8 1565.0,660.6 1575.0,658.8 1585.0,659.3 1595.0,660.8 1605.0,660.4 1615.0,659.6 1635.0,659.5 1653.0,659.5 1658.0,656.8 1665.0,655.6 1675.0,656.4 1683.0,654.6 1692.0,654.5 1701.5,653.2 1708.0,655.2 1716.0,653.6 1728.0,652.0 1738.0,651.5 1742.5,650.3 1747.3,652.2 1747.3,677.3" fill="#fde6a6"/>
<polyline points="1541.6,658.7 1548.0,656.5 1556.0,659.8 1565.0,660.6 1575.0,658.8 1585.0,659.3 1595.0,660.8 1605.0,660.4 1615.0,659.6 1635.0,659.5 1653.0,659.5 1658.0,656.8 1665.0,655.6 1675.0,656.4 1683.0,654.6 1692.0,654.5 1701.5,653.2 1708.0,655.2 1716.0,653.6 1728.0,652.0 1738.0,651.5 1742.5,650.3 1747.3,652.2" fill="none" stroke="#cfa95e" stroke-width="1.1"/>
<rect x="1747.3" y="652" width="45.4" height="25.3" fill="url(#hatch)"/>
<rect x="1792.7" y="646.7" width="45.8" height="30.6" fill="#f5f5f5"/>
<rect x="1792.7" y="652" width="45.8" height="25.3" fill="url(#hatch2)"/>
<path d="M7.5 677.3 V646.7 H1541.6 V677.3 H7.5" fill="none" stroke="#444" stroke-width="1.3"/>
<line x1="1541.6" y1="677.9" x2="1792.7" y2="677.9" stroke="#d4d4d4" stroke-width="1"/>
<line x1="7.8" y1="646" x2="7.8" y2="678" stroke="#333" stroke-width="2"/>
<path d="M1792.7 677.3 V646.7 H1838.5 V677.3 Z" fill="none" stroke="#444" stroke-width="1.3"/>
<rect x="1536.4" y="653.2" width="8.6" height="17" rx="3" fill="#1a1a1a"/>
<rect x="1788.4" y="653.2" width="8.6" height="17" rx="3" fill="#1a1a1a"/>
<!-- bottom grey bar -->
<rect x="1410.2" y="679" width="1.6" height="10" fill="#d9dde0" opacity="0.5"/>
<rect x="1411.6" y="679.2" width="434" height="10" fill="#e6eaee"/>
<line x1="1411.6" y1="679.2" x2="1845" y2="679.2" stroke="#cfd4d8" stroke-width="1"/>
</svg>

<!-- watermark -->
<div style="position:absolute;left:23.1px;top:541.2px;width:249.6px;height:49.8px;background:rgba(255,255,255,0.68);"></div>
<div class="t" id="wm1" style="left:22.05px;top:537.75px;font-size:33.6px;line-height:40px;font-weight:bold;color:#7f7f7f;letter-spacing:0.62px;-webkit-text-stroke:1.1px #7f7f7f;">Investing</div>
<div class="t" id="wm2" style="left:173.4px;top:549.1px;font-size:24px;line-height:28px;color:#7f7f7f;letter-spacing:-0.35px;">.com</div>
<div id="wmdot" style="position:absolute;left:124px;top:542.3px;width:7px;height:5.9px;background:#f7ad3a;"></div>

<!-- nav buttons -->
<svg width="1845" height="689" viewBox="0 0 1845 689">
<g fill="none" stroke="#e6e6e6" stroke-width="1">
<circle cx="834.8" cy="551.3" r="19.3"/><circle cx="874.8" cy="551.3" r="19.3"/><circle cx="914.7" cy="551.3" r="19.3"/>
<circle cx="954.7" cy="551.3" r="19.3"/><circle cx="995" cy="551.3" r="19.3"/><circle cx="1035.2" cy="551.3" r="19.3"/>
</g>
<g fill="#e0e0e0" stroke="none">
<path d="M829.5 551.3 L837.5 544 V558.6 Z"/><rect x="838.3" y="544" width="1.3" height="14.6"/>
<path d="M1040.5 551.3 L1032.5 544 V558.6 Z"/><rect x="1030.4" y="544" width="1.3" height="14.6"/>
</g>
<g fill="none" stroke="#e0e0e0" stroke-width="1.4">
<circle cx="873.5" cy="546" r="3.2"/><line x1="875.8" y1="548.5" x2="880.5" y2="553.5" stroke-width="2"/>
<path d="M866 556 H872 M869 553 V559"/>
<circle cx="913.5" cy="546" r="3.2"/><line x1="915.8" y1="548.5" x2="920.5" y2="553.5" stroke-width="2"/>
<path d="M908 556 H914.5"/>
<circle cx="950.5" cy="546" r="3.2"/><line x1="952.8" y1="548.5" x2="957.5" y2="553.5" stroke-width="2"/>
<path d="M945.5 556.5 H951 M947.5 554.5 L945.5 556.5 L947.5 558.5"/>
<circle cx="994" cy="546" r="3.2"/><line x1="996.3" y1="548.5" x2="1001" y2="553.5" stroke-width="2"/>
<path d="M988 557.5 H993 M991 555.5 L993 557.5 L991 559.5 M1001.5 557.5 H996.5 M998.5 555.5 L996.5 557.5 L998.5 559.5"/>
</g>
</svg>

<!-- labels -->
<div class="yl" style="top:14.2px">230320</div>
<div class="yl" style="top:59.8px">224130</div>
<div class="yl" style="top:151.1px">211750</div>
<div class="yl" style="top:196.7px">205560</div>
<div class="yl" style="top:242.3px">199370</div>
<div class="yl" style="top:287.9px">193180</div>
<div class="yl" style="top:333.5px">186990</div>
<div class="yl" style="top:379.2px">180800</div>
<div class="yl" style="top:424.8px">174610</div>
<div class="yl" style="top:470.4px">168420</div>
<div class="yl" style="top:516.0px">162230</div>
<div class="yl" style="top:561.6px">156040</div>

<div class="xl" style="left:8px;text-align:left;">05/24<br></div>
<div class="xl" style="left:8px;top:606.5px;text-align:left;font-size:13px;">2021</div>
<div class="xl" style="left:120.7px">06/09</div>
<div class="xl" style="left:216.1px">06/21</div>
<div class="xl" style="left:311.4px">07/01</div>
<div class="xl" style="left:406.7px">07/13</div>
<div class="xl" style="left:502.1px">07/26</div>
<div class="xl" style="left:597.4px">08/05</div>
<div class="xl" style="left:692.8px">08/17</div>
<div class="xl" style="left:788.1px">08/29</div>
<div class="xl" style="left:883.5px">09/13</div>
<div class="xl" style="left:978.8px">10/03</div>
<div class="xl" style="left:1074.2px">10/13</div>
<div class="xl" style="left:1169.5px">10/25</div>
<div class="xl" style="left:1264.8px">11/04</div>
<div class="xl" style="left:1360.2px">11/16</div>
<div class="xl" style="left:1455.5px">11/26</div>
<div class="xl" style="left:1550.9px">12/04</div>
<div class="xl" style="left:1646.2px">12/12</div>


<!-- price tags -->
<div style="position:absolute;left:8.7px;top:111px;width:50.3px;height:19px;background:#9a9aff;border-radius:4px;"></div>
<div class="t" id="ltag" style="left:8.7px;top:111px;width:50.3px;height:19px;line-height:19px;text-align:center;color:#fff;font-weight:bold;font-size:13.4px;">214642</div>
<div style="position:absolute;left:1759.2px;top:108.3px;width:86px;height:21.9px;background:#fb6a60;border-radius:3px 0 0 3px;"></div>
<div style="position:absolute;left:1757.2px;top:116.2px;width:0;height:0;border-top:3.5px solid transparent;border-bottom:3.5px solid transparent;border-right:3px solid #fb6a60;"></div>
<div class="t" id="rtag" style="left:1759.2px;top:108.3px;width:86px;height:21.9px;line-height:21.6px;text-align:center;color:#fff;font-weight:bold;font-size:14.3px;letter-spacing:0.75px;">217420</div>

<!-- header -->
<div class="hdr" id="h_eltr" style="left:33.2px;top:20.5px;font-size:20px;line-height:22px;font-weight:bold;color:#000;">ELTR</div>
<svg width="1845" height="689" viewBox="0 0 1845 689">
<g fill="none" stroke="#e0e0e0" stroke-width="1.8">
<path d="M89.6 34.5 Q99.8 22 110 34.5 Q99.8 47 89.6 34.5 Z" fill="#e6e6e6" stroke="none"/><circle cx="99.8" cy="34.5" r="3.6" fill="#fff" stroke="none"/><circle cx="99.8" cy="34.5" r="2" fill="#e0e0e0" stroke="none"/>
<path d="M110.8 60.9 Q121 48.4 131.2 60.9 Q121 73.4 110.8 60.9 Z" fill="#e6e6e6" stroke="none"/><circle cx="121" cy="60.9" r="3.6" fill="#fff" stroke="none"/><circle cx="121" cy="60.9" r="2" fill="#e0e0e0" stroke="none"/>
<circle cx="122" cy="34.6" r="3.6" stroke-width="3.2"/><circle cx="122" cy="34.6" r="6" stroke-width="2" stroke-dasharray="2.3 2.4"/>
<circle cx="143.4" cy="60.9" r="3.6" stroke-width="3.2"/><circle cx="143.4" cy="60.9" r="6" stroke-width="2" stroke-dasharray="2.3 2.4"/>
<path d="M156 55.9 L166 65.9 M166 55.9 L156 65.9" stroke-width="2.6"/>
</g>
</svg>
<div class="hdr" id="h_c" style="left:135.4px;top:25px;font-size:15px;line-height:18px;"><span class="v">217420</span></div>
<div class="hdr" id="h_cl" style="left:190px;top:25px;font-size:14px;line-height:18px;color:#444;" dir="rtl">סגירה:</div>
<div class="hdr" id="h_l" style="left:235.4px;top:25px;font-size:15px;line-height:18px;"><span class="v">216880</span></div>
<div class="hdr" id="h_ll" style="left:290.6px;top:25px;font-size:14px;line-height:18px;color:#444;" dir="rtl">נמוך:</div>
<div class="hdr" id="h_h" style="left:326.3px;top:25px;font-size:15px;line-height:18px;"><span class="v">220000</span></div>
<div class="hdr" id="h_hl" style="left:381.6px;top:25px;font-size:14px;line-height:18px;color:#444;" dir="rtl">גבוה:</div>
<div class="hdr" id="h_o" style="left:418.2px;top:25px;font-size:15px;line-height:18px;"><span class="v">220000</span></div>
<div class="hdr" id="h_ol" style="left:473.5px;top:25px;font-size:14px;line-height:18px;color:#444;" dir="rtl">פתיחה:</div>

<div class="hdr" id="h_vol" style="left:33.4px;top:53.1px;font-size:14.9px;line-height:17px;color:#222;">Volume <i>(9)</i></div>
<div class="hdr" id="h_colon" style="left:172.5px;top:52.5px;font-size:14.4px;line-height:17px;color:#444;">:</div>
<div class="hdr" id="h_v1" style="left:180.2px;top:52.5px;font-size:14.2px;line-height:17px;" ><span class="v">290</span></div>
<div class="hdr" id="h_v2" style="left:236.3px;top:52.5px;font-size:14.6px;line-height:17px;color:#4a7fd1;">2920</div>
<div style="position:absolute;left:294.1px;top:55.6px;width:1.6px;height:12px;background:#444;"></div>

<div class="t" id="navlbl" style="left:1545px;top:631.5px;width:200px;text-align:center;font-size:11.2px;line-height:13px;font-weight:bold;color:#111;">05/24/2021 <span style="font-weight:bold">&#8211;</span> 12/18/2021</div>
</body></html>
